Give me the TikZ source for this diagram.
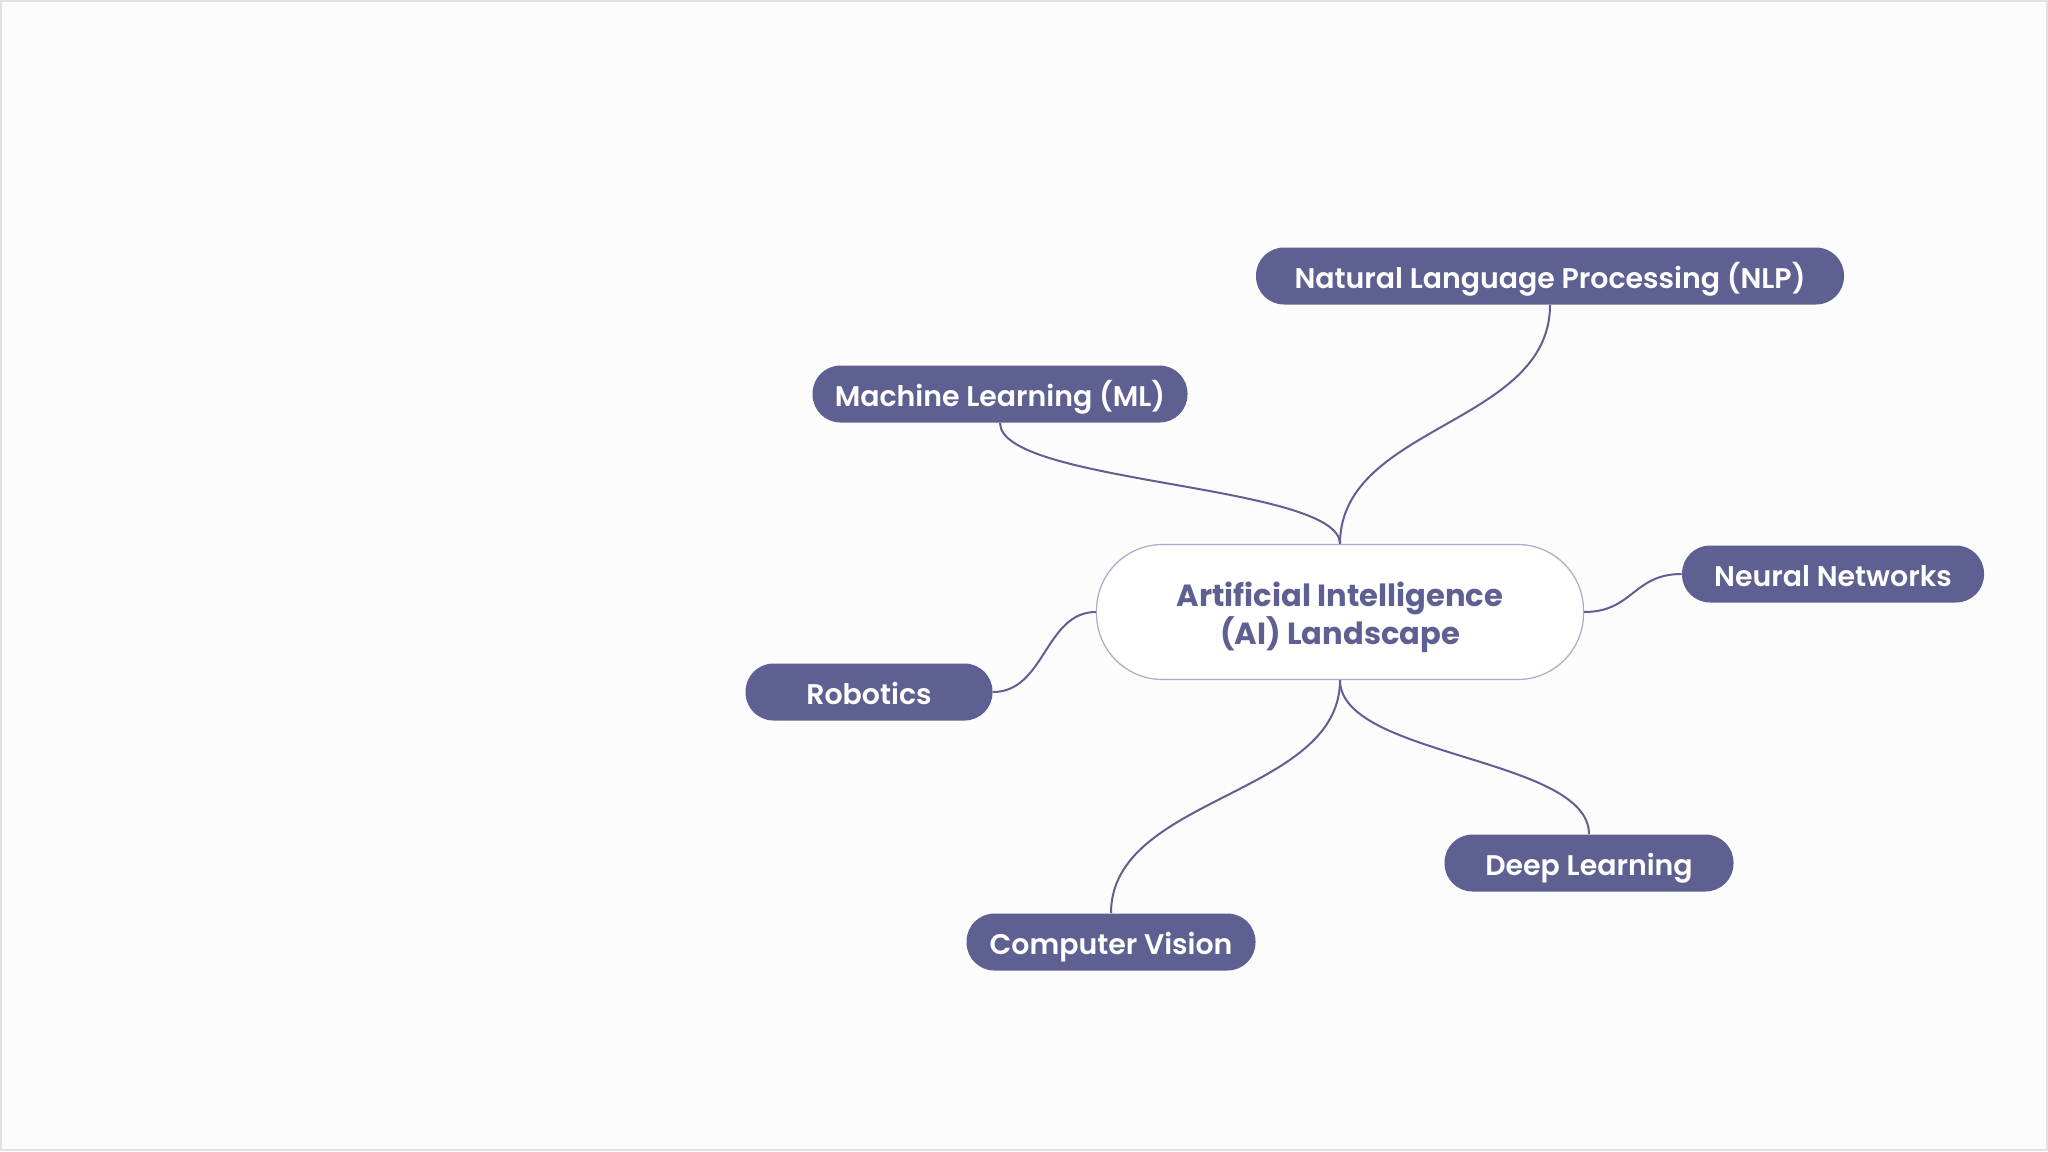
\documentclass[tikz,border=0pt]{standalone}
\usepackage{fontspec}
\setmainfont{Poppins}[BoldFont={Poppins SemiBold}]
\newfontfamily\hubfont{Poppins Bold}
\definecolor{nodepurple}{RGB}{95,96,146}
\definecolor{rimgray}{RGB}{170,170,198}
\definecolor{bggray}{RGB}{252,252,252}
\definecolor{framegray}{RGB}{225,225,225}
\begin{document}
\begin{tikzpicture}[x=0.5pt,y=-0.5pt,
  leaf/.style={fill=nodepurple,text=white,rounded corners=14pt,minimum height=28.5pt,inner sep=0pt,text height=12pt,text depth=0pt,font=\fontsize{14.2}{17}\selectfont\bfseries},
  hub/.style={draw=rimgray,line width=0.6pt,fill=white,rounded corners=33pt,minimum width=243.5pt,minimum height=67.5pt,inner sep=0pt,align=center,text height=36.6pt,text=nodepurple,font=\fontsize{15.3}{18}\hubfont},
  conn/.style={draw=nodepurple,line width=1pt}]
\fill[bggray] (0,0) rectangle (2048,1151);
\draw[framegray,line width=1pt] (1,1) rectangle (2047,1150);
\useasboundingbox (0,0) rectangle (2048,1151);
\node[hub] (c) at (1340,612) {Artificial Intelligence\\(AI) Landscape};
\node[leaf,minimum width=294pt] (nlp) at (1550,276) {Natural Language Processing (NLP)};
\node[leaf,minimum width=187.5pt] (ml) at (1000,394) {Machine Learning (ML)};
\node[leaf,minimum width=151pt] (nn) at (1833,574) {Neural Networks};
\node[leaf,minimum width=123.5pt] (rob) at (869,692) {Robotics};
\node[leaf,minimum width=144.5pt] (dl) at (1589,863) {Deep Learning};
\node[leaf,minimum width=144.5pt] (cv) at (1111,942) {Computer Vision};
\draw[conn] (c.north) .. controls (1340,425) and (1550,425) .. (nlp.south);
\draw[conn] (c.north) .. controls (1340,484) and (1000,484) .. (ml.south);
\draw[conn] (c.east) .. controls (1633,612) and (1633,574) .. (nn.west);
\draw[conn] (c.west) .. controls (1045,612) and (1045,692) .. (rob.east);
\draw[conn] (c.south) .. controls (1340,757) and (1589,757) .. (dl.north);
\draw[conn] (c.south) .. controls (1340,796) and (1111,796) .. (cv.north);
\end{tikzpicture}
\end{document}
